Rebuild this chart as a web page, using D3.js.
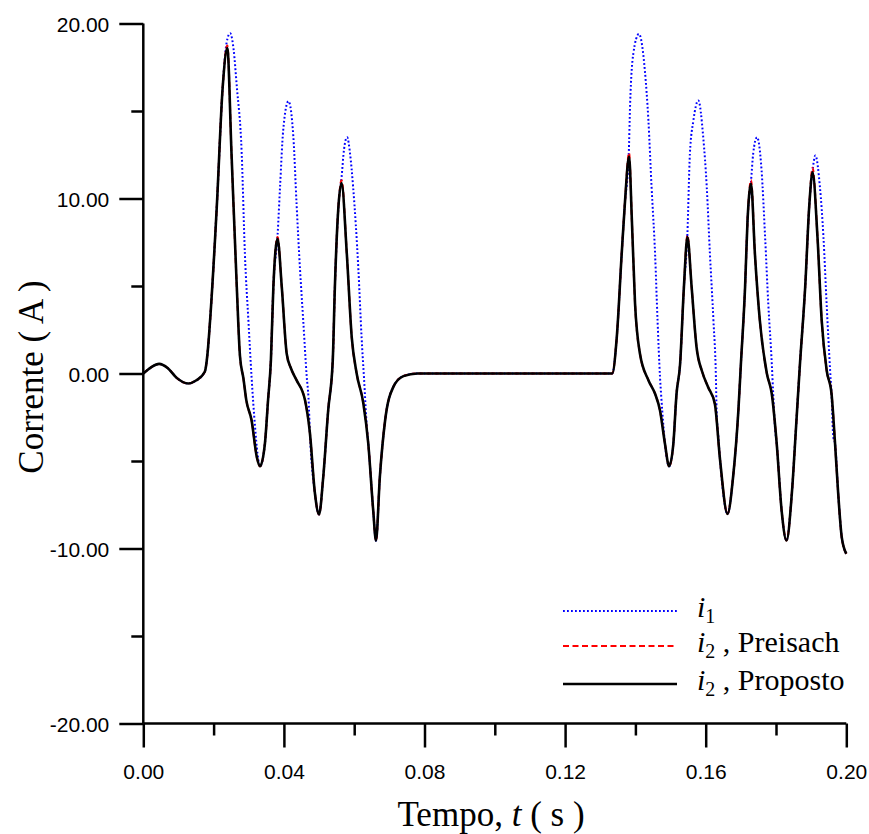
<!DOCTYPE html>
<html>
<head>
<meta charset="utf-8">
<script src="https://cdn.jsdelivr.net/npm/d3@7"></script>
<style>
  html, body { margin: 0; padding: 0; background: #fff; }
  svg { display: block; }
</style>
</head>
<body>
<svg id="chart" width="869" height="834"></svg>
<script>
// ---------------- data ----------------
const xDomain = [0, 0.2];
const yDomain = [-20, 20];
const xTickValues = [0, 0.02, 0.04, 0.06, 0.08, 0.10, 0.12, 0.14, 0.16, 0.18, 0.20];
const xLabelValues = [0, 0.04, 0.08, 0.12, 0.16, 0.20];
const yTickValues = [-20, -15, -10, -5, 0, 5, 10, 15, 20];
const yLabelValues = [-20, -10, 0, 10, 20];

// i2 , Proposto (black solid)
const tProposto = [0.000,0.0022,0.0045,0.0070,0.0095,0.0128,0.0150,0.0175,0.0183,0.0190,0.0209,0.0226,0.0239,0.0251,0.0266,0.0275,0.0285,0.0293,0.0308,0.0323,0.0332,0.0346,0.0355,0.0363,0.0370,0.0382,0.0394,0.0408,0.0420,0.0436,0.0460,0.0474,0.0488,0.0500,0.0512,0.0526,0.0539,0.0545,0.0555,0.0564,0.0579,0.0593,0.0607,0.0626,0.0640,0.0654,0.0662,0.0673,0.0688,0.0711,0.0740,0.0780,0.1334,0.1347,0.1361,0.1370,0.1382,0.1390,0.1399,0.1413,0.1437,0.1456,0.1470,0.1484,0.1496,0.1508,0.1517,0.1527,0.1538,0.1548,0.1560,0.1574,0.1590,0.1607,0.1626,0.1641,0.1662,0.1678,0.1693,0.1700,0.1712,0.1719,0.1729,0.1740,0.1754,0.1774,0.1788,0.1802,0.1816,0.1830,0.1845,0.1857,0.1868,0.1883,0.1895,0.1904,0.1918,0.1930,0.1944,0.1958,0.1968,0.1977,0.1987,0.2000];
const vProposto = [0.00,0.35,0.55,0.30,-0.25,-0.57,-0.40,0.10,1.20,3.03,9.50,16.40,18.60,12.55,4.93,1.00,-0.30,-1.52,-2.67,-4.78,-5.30,-4.00,-1.50,0.75,4.93,7.70,4.93,1.13,0.30,-0.38,-1.52,-3.40,-6.80,-8.05,-5.90,-2.10,0.75,4.93,9.50,10.88,6.84,2.07,0.00,-1.70,-4.00,-7.80,-9.55,-5.90,-2.67,-0.78,-0.15,0.00,0.00,2.07,6.84,9.70,12.40,8.74,4.00,1.13,-0.38,-1.16,-2.11,-4.00,-5.30,-4.00,-1.16,0.50,4.93,7.80,4.93,1.50,0.10,-0.78,-1.73,-4.97,-8.02,-5.90,-2.10,0.50,4.93,8.74,10.84,6.84,3.03,0.00,-1.16,-4.00,-7.83,-9.54,-6.87,-3.07,0.50,4.93,9.70,11.50,7.80,3.03,0.20,-1.16,-4.00,-6.87,-9.35,-10.30];

// i2 , Preisach (red dashed) - same instants, slightly higher peaks
const tPreisach = tProposto;
const vPreisach = [0.00,0.35,0.55,0.30,-0.25,-0.57,-0.40,0.10,1.20,3.03,9.50,16.40,18.75,12.55,4.93,1.00,-0.30,-1.52,-2.67,-4.78,-5.30,-4.00,-1.50,0.75,4.93,7.80,4.93,1.13,0.30,-0.38,-1.52,-3.40,-6.80,-8.05,-5.90,-2.10,0.75,4.93,9.50,11.05,6.84,2.07,0.00,-1.70,-4.00,-7.80,-9.55,-5.90,-2.67,-0.78,-0.15,0.00,0.00,2.07,6.84,9.70,12.60,8.74,4.00,1.13,-0.38,-1.16,-2.11,-4.00,-5.30,-4.00,-1.16,0.50,4.93,7.90,4.93,1.50,0.10,-0.78,-1.73,-4.97,-8.02,-5.90,-2.10,0.50,4.93,8.74,11.05,6.84,3.03,0.00,-1.16,-4.00,-7.83,-9.54,-6.87,-3.07,0.50,4.93,9.70,11.75,7.80,3.03,0.20,-1.16,-4.00,-6.87,-9.35,-10.30];

// i1 (blue dotted)
const tI1 = [0.000,0.0022,0.0045,0.0070,0.0095,0.0128,0.0150,0.0175,0.0183,0.0190,0.0209,0.0226,0.0237,0.0247,0.0257,0.0266,0.0280,0.0289,0.0299,0.0308,0.0318,0.0325,0.0332,0.0346,0.0355,0.0363,0.0370,0.0382,0.0389,0.0398,0.0413,0.0427,0.0436,0.0446,0.0455,0.0465,0.0470,0.0474,0.0488,0.0500,0.0512,0.0526,0.0539,0.0545,0.0555,0.0564,0.0571,0.0580,0.0588,0.0597,0.0612,0.0621,0.0628,0.0636,0.0641,0.0654,0.0662,0.0673,0.0688,0.0711,0.0740,0.0780,0.1334,0.1347,0.1361,0.1370,0.1381,0.1385,0.1394,0.1410,0.1427,0.1437,0.1446,0.1456,0.1463,0.1470,0.1473,0.1480,0.1484,0.1496,0.1508,0.1517,0.1527,0.1538,0.1548,0.1555,0.1565,0.1579,0.1593,0.1603,0.1612,0.1622,0.1629,0.1631,0.1636,0.1641,0.1662,0.1678,0.1693,0.1700,0.1712,0.1719,0.1729,0.1735,0.1746,0.1759,0.1769,0.1778,0.1788,0.1792,0.1797,0.1802,0.1816,0.1830,0.1845,0.1857,0.1868,0.1883,0.1895,0.1904,0.1912,0.1925,0.1935,0.1944,0.1954,0.1958,0.1963,0.1968,0.1977,0.1987,0.2000];
const vI1 = [0.00,0.35,0.55,0.30,-0.25,-0.57,-0.40,0.10,1.20,3.03,9.50,16.40,18.90,19.45,18.50,16.40,12.55,6.84,3.03,-0.20,-3.07,-4.60,-5.30,-4.00,-1.50,0.75,4.93,7.90,10.65,13.90,15.56,13.50,9.70,5.90,3.03,-0.20,-1.40,-3.40,-6.80,-8.05,-5.90,-2.10,0.75,4.93,9.50,11.20,12.80,13.50,12.60,10.65,5.90,2.07,-0.30,-3.07,-4.20,-7.80,-9.55,-5.90,-2.67,-0.78,-0.15,0.00,0.00,2.07,6.84,9.70,12.50,15.40,18.27,19.40,17.30,14.46,10.65,6.84,3.03,-0.20,-1.16,-3.07,-4.00,-5.30,-4.00,-1.16,0.50,4.93,8.00,12.55,14.46,15.60,13.50,10.65,6.84,3.03,-0.20,-2.10,-3.64,-4.97,-8.02,-5.90,-2.10,0.50,4.93,8.74,11.00,12.55,13.50,11.60,7.80,4.00,0.57,-1.16,-3.07,-4.00,-7.83,-9.54,-6.87,-3.07,0.50,4.93,9.70,11.60,12.46,10.65,7.80,4.00,0.17,-1.16,-3.64,-4.00,-6.87,-9.35,-10.30];

const legendLabels = [
  { sub: "1", text: "" },
  { sub: "2", text: " , Preisach" },
  { sub: "2", text: " , Proposto" }
];
const xTitle = "Tempo, ";
const yTitle = "Corrente ( A )";

// ---------------- drawing ----------------
const svg = d3.select("#chart");
const x = d3.scaleLinear().domain(xDomain).range([143.3, 846.3]);
const y = d3.scaleLinear().domain(yDomain).range([723.5, 23.5]);

const zip = (ts, vs) => ts.map((t, i) => [t, vs[i]]);
const line = d3.line().x(d => x(d[0])).y(d => y(d[1])).curve(d3.curveMonotoneX);

const plot = svg.append("g");
plot.append("path").datum(zip(tI1, vI1)).attr("d", line)
  .attr("fill", "none").attr("stroke", "#0000ff").attr("stroke-width", 2)
  .attr("stroke-dasharray", "1.8,2.2");
plot.append("path").datum(zip(tPreisach, vPreisach)).attr("d", line)
  .attr("fill", "none").attr("stroke", "#ff0000").attr("stroke-width", 2)
  .attr("stroke-dasharray", "5,3");
plot.append("path").datum(zip(tProposto, vProposto)).attr("d", line)
  .attr("fill", "none").attr("stroke", "#000").attr("stroke-width", 2.6)
  .attr("stroke-linejoin", "round");

// axes
const sansFont = "'Liberation Sans', Arial, sans-serif";
const serifFont = "'Liberation Serif', 'Times New Roman', serif";
const fmt = d => d.toFixed(2);
const near = (a, b) => Math.abs(a - b) < 1e-9;

const yAxis = d3.axisLeft(y).tickValues(yTickValues).tickSizeOuter(0)
  .tickFormat(d => yLabelValues.some(v => near(v, d)) ? fmt(d) : "");
const gy = svg.append("g").attr("transform", `translate(${x(0)},0)`).call(yAxis);
gy.select(".domain").attr("stroke-width", 2.5).attr("d", `M0,${y(20)}V${y(-20)}`);
gy.selectAll(".tick line").attr("stroke-width", 2.5)
  .attr("x2", d => yLabelValues.some(v => near(v, d)) ? -24 : -12);
gy.selectAll(".tick text").attr("x", -34).attr("dy", "0.36em")
  .style("font-family", sansFont).style("font-size", "21px").attr("fill", "#000");

const xAxis = d3.axisBottom(x).tickValues(xTickValues).tickSizeOuter(0)
  .tickFormat(d => xLabelValues.some(v => near(v, d)) ? fmt(d) : "");
const gx = svg.append("g").attr("transform", `translate(0,${y(-20)})`).call(xAxis);
gx.select(".domain").attr("stroke-width", 2.5).attr("d", `M${x(0)},0H${x(0.2)}`);
gx.selectAll(".tick line").attr("stroke-width", 2.5)
  .attr("y2", d => xLabelValues.some(v => near(v, d)) ? 24 : 12);
gx.selectAll(".tick text").attr("y", 41).attr("dy", "0.71em")
  .style("font-family", sansFont).style("font-size", "21px").attr("fill", "#000");

// axis titles
const xt = svg.append("text").attr("x", 491).attr("y", 826).attr("text-anchor", "middle")
  .style("font-family", serifFont).style("font-size", "35px").attr("fill", "#000");
xt.append("tspan").text(xTitle);
xt.append("tspan").style("font-style", "italic").text("t");
xt.append("tspan").text(" ( s )");

svg.append("text").attr("transform", "translate(43,377) rotate(-90)").attr("text-anchor", "middle")
  .style("font-family", serifFont).style("font-size", "35px").attr("fill", "#000").text(yTitle);

// legend
const legendRows = [
  { y: 611, stroke: "#0000ff", dash: "1.8,2.2", width: 2 },
  { y: 646, stroke: "#ff0000", dash: "6,3.5", width: 2 },
  { y: 684, stroke: "#000", dash: null, width: 2.6 }
];
const lg = svg.append("g");
legendRows.forEach((r, i) => {
  lg.append("line").attr("x1", 563).attr("x2", 677).attr("y1", r.y).attr("y2", r.y)
    .attr("stroke", r.stroke).attr("stroke-width", r.width)
    .attr("stroke-dasharray", r.dash);
  const t = lg.append("text").attr("x", 697).attr("y", r.y + 6)
    .style("font-family", serifFont).style("font-size", "30px").attr("fill", "#000");
  t.append("tspan").style("font-style", "italic").text("i");
  t.append("tspan").attr("dy", 6).style("font-size", "20px").text(legendLabels[i].sub);
  if (legendLabels[i].text) t.append("tspan").attr("dy", -6).text(legendLabels[i].text);
});
</script>
</body>
</html>
